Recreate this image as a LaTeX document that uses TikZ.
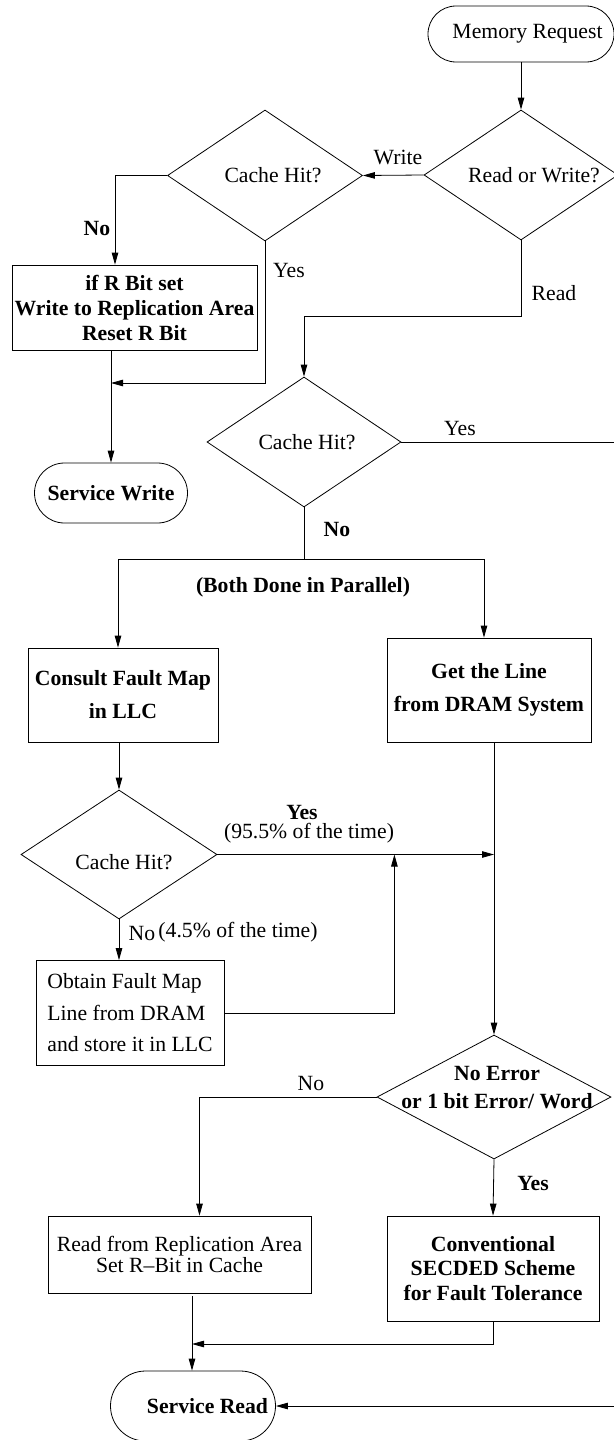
\documentclass[tikz,border=0pt]{standalone}
\usepackage{fontspec}
\setmainfont{Liberation Serif}
\usetikzlibrary{shapes.geometric,arrows.meta}
\newcommand{\fsz}[1]{\fontsize{21.7}{#1}\selectfont}
\begin{document}
\begin{tikzpicture}[x=1pt,y=-1pt, line width=0.8pt,
  arr/.style={-{Triangle[length=12pt,width=6.5pt]}},
  box/.style={draw, rectangle, inner sep=0pt, align=center},
  dia/.style={draw, diamond, inner sep=0pt},
  term/.style={draw, rectangle, inner sep=0pt},
  lbl/.style={inner sep=0pt, font=\fsz{26}},
  blbl/.style={inner sep=0pt, font=\fsz{26}\bfseries}]
\useasboundingbox (0,0) rectangle (613,1440);

% terminals
\node[term, rounded corners=28pt, minimum width=186pt, minimum height=56pt, font=\fsz{26}] (mem) at (521,34) {\hspace*{13pt}Memory Request};
\node[term, rounded corners=30pt, minimum width=153pt, minimum height=60pt, font=\fsz{26}\bfseries] (sw) at (111,493) {Service Write};
\node[term, rounded corners=35pt, minimum width=165pt, minimum height=70pt, font=\fsz{26}\bfseries] (sr) at (193,1406) {\hspace*{29pt}Service Read};

% decisions
\node[dia, minimum width=194pt, minimum height=130pt, label={[lbl,xshift=13pt]center:Read or Write?}] (rw) at (521,175) {};
\node[dia, minimum width=195pt, minimum height=131pt, label={[lbl,xshift=8pt]center:Cache Hit?}] (ch1) at (265,175.5) {};
\node[dia, minimum width=194pt, minimum height=130pt, label={[lbl,xshift=3pt]center:Cache Hit?}] (ch2) at (304,442) {};
\node[dia, minimum width=196pt, minimum height=129pt, label={[lbl,xshift=5pt,yshift=-8pt]center:Cache Hit?}] (ch3) at (119,854.5) {};
\node[dia, minimum width=234pt, minimum height=124pt, label={[blbl,align=center,xshift=3pt,yshift=9pt,font=\fsz{28}\bfseries]center:No Error\\or 1 bit Error/ Word}] (ne) at (494,1097) {};

% processes
\node[box, minimum width=245pt, minimum height=85pt, font=\fsz{25}\bfseries] (rbit) at (134.5,307.5) {if R Bit set\\Write to Replication Area\\Reset R Bit};
\node[box, minimum width=190pt, minimum height=94pt, font=\fsz{33}\bfseries] (consult) at (123,695) {Consult Fault Map\\in LLC};
\node[box, minimum width=204pt, minimum height=104pt, font=\fsz{33}\bfseries] (getline) at (489,690) {Get the Line\\from DRAM System};
\node[box, minimum width=188pt, minimum height=105pt, align=left, font=\fsz{31.5}] (obtain) at (130,1013) {Obtain Fault Map\\Line from DRAM\\and store it in LLC};
\node[box, minimum width=263pt, minimum height=77pt, font=\fsz{19}] (readrep) at (179.5,1254.5) {Read from Replication Area\\Set R–Bit in Cache};
\node[box, minimum width=212pt, minimum height=105pt, font=\fsz{24.5}\bfseries] (conv) at (493,1268.5) {Conventional\\SECDED Scheme\\for Fault Tolerance};

% junction points
\coordinate (j1) at (111,383);
\coordinate (j2) at (192,1344);

% connectors
\draw[arr] (mem.south) -- (rw.north);
\draw[arr] (rw.west) -- (ch1.east);
\draw[arr] (ch1.west) -| ([xshift=-19.5pt]rbit.north);
\draw[arr] (ch1.south) |- (j1);
\draw (rbit.south -| j1) -- (j1);
\draw[arr] (j1) -- (sw.north -| j1);
\draw[arr] (rw.south) -- ++(0,76) -| (ch2.north);
\draw[arr] (ch2.east) -- ++(240,0) |- (sr.east);
\draw[arr] (ch2.south) -- ++(0,52) -| ([xshift=-5pt]consult.north);
\draw[arr] (ch2.south) -- ++(0,52) -| ([xshift=-5pt]getline.north);
\draw[arr] ([xshift=-4pt]consult.south) -- (ch3.north);
\draw (getline.south -| ne.north) -- (ch3.east -| ne.north);
\draw[arr] (ch3.east) -- (ch3.east -| ne.north);
\draw[arr] (ch3.east -| ne.north) -- (ne.north);
\draw[arr] (ch3.south) -- (ch3.south |- obtain.north);
\draw[arr] (obtain.east) -| ([xshift=177pt]ch3.east);
\draw[arr] (ne.west) -| ([xshift=20pt]readrep.north);
\draw[arr] (ne.south) -- (conv.north);
\draw[arr] (conv.south) |- (j2);
\draw[shorten <=3pt] (readrep.south -| j2) -- (j2);
\draw[arr] (j2) -- (sr.north -| j2);

% labels
\node[lbl] (lwrite) at (398,157) {Write};
\node[blbl] (lno1) at (97,228) {No};
\node[lbl] (lyes1) at (289,270) {Yes};
\node[lbl] (lread) at (554,293) {Read};
\node[lbl] (lyes2) at (460,428) {Yes};
\node[blbl] (lno2) at (337,529) {No};
\node[blbl] (lpar) at (303,587) {(Both Done in Parallel)};
\node[blbl] (lyes3) at (302,812) {Yes};
\node[lbl] (lpct1) at (309,833) {(95.5\% of the time)};
\node[lbl] (lno3) at (142,933) {No};
\node[lbl] (lpct2) at (238,932) {(4.5\% of the time)};
\node[lbl] (lno4) at (311,1083) {No};
\node[blbl] (lyes4) at (533,1183) {Yes};
\end{tikzpicture}
\end{document}
